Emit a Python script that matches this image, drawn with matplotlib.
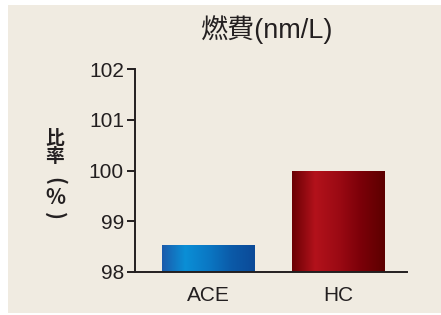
import matplotlib
matplotlib.use("Agg")
import matplotlib.pyplot as plt
import numpy as np
from matplotlib.colors import LinearSegmentedColormap
from matplotlib.patches import Rectangle

categories = ["ACE", "HC"]
values = [98.53, 100.0]
yticks = [98, 99, 100, 101, 102]
title = "燃費(nm/L)"
ylabel_chars = ["比", "率", "(", "%", ")"]

text_color = "#231f20"
bg_color = "#f0ebe1"

gradients = [
    ["#1b5bab", "#0a8fd6", "#0a78c4", "#0c5aa8", "#0b4a98"],
    ["#6a0004", "#b3121b", "#9c0a14", "#7a0008", "#5c0000"],
]

plt.rcParams["font.family"] = ["Liberation Sans", "Noto Sans CJK JP"]

fig = plt.figure(figsize=(4.41, 3.15), dpi=100, facecolor="white")
fig.patches.append(Rectangle((8 / 441, 2 / 315), 1, 1 - 7 / 315, transform=fig.transFigure,
                             facecolor=bg_color, edgecolor="none", zorder=-10))

ax = fig.add_axes([135 / 441, 1 - 271.7 / 315, (407 - 135) / 441, (271.7 - 69.3) / 315])
ax.set_facecolor("none")

x = np.arange(len(categories))
width = 0.708
bars = ax.bar(x, values, width=width, bottom=0, color="none", edgecolor="none")

# horizontal gradient fill clipped to each bar
for bar, cols in zip(bars, gradients):
    cmap = LinearSegmentedColormap.from_list("g", cols)
    grad = np.linspace(0, 1, 256).reshape(1, -1)
    x0 = bar.get_x()
    im = ax.imshow(grad, cmap=cmap, aspect="auto", extent=[x0, x0 + bar.get_width(), 98, bar.get_height()],
                   zorder=2)
    im.set_clip_path(bar)

ax.set_xlim(-0.5615, 1.531)
ax.set_ylim(98, 102)

for s in ["top", "right"]:
    ax.spines[s].set_visible(False)
for s in ["left", "bottom"]:
    ax.spines[s].set_linewidth(1.4)
    ax.spines[s].set_color(text_color)
    ax.spines[s].set_zorder(3)

ax.set_yticks(yticks)
ax.set_yticklabels([str(t) for t in yticks])
ax.set_xticks(x)
ax.set_xticklabels(categories)
ax.tick_params(axis="y", length=6, width=1.4, color=text_color, labelsize=15, labelcolor=text_color, pad=2)
ax.tick_params(axis="x", length=0, labelsize=15, labelcolor=text_color, pad=10)

fig.text(266 / 441, 1 - 30 / 315, title, ha="center", va="center", fontsize=19.5, color=text_color)

# vertical label, parentheses turned sideways as in vertical writing
ys = [138, 156, 181, 197, 216]
rots = [0, 0, -90, 0, -90]
sizes = [13.5, 13.5, 15, 15, 15]
for ch, yy, r, fs in zip(ylabel_chars, ys, rots, sizes):
    fig.text(55 / 441, 1 - yy / 315, ch, ha="center", va="center", fontsize=fs, color=text_color,
             family=["Noto Sans CJK JP", "DejaVu Sans"], fontweight="bold", rotation=r)

fig.savefig("out.png", dpi=100, facecolor=fig.get_facecolor())
